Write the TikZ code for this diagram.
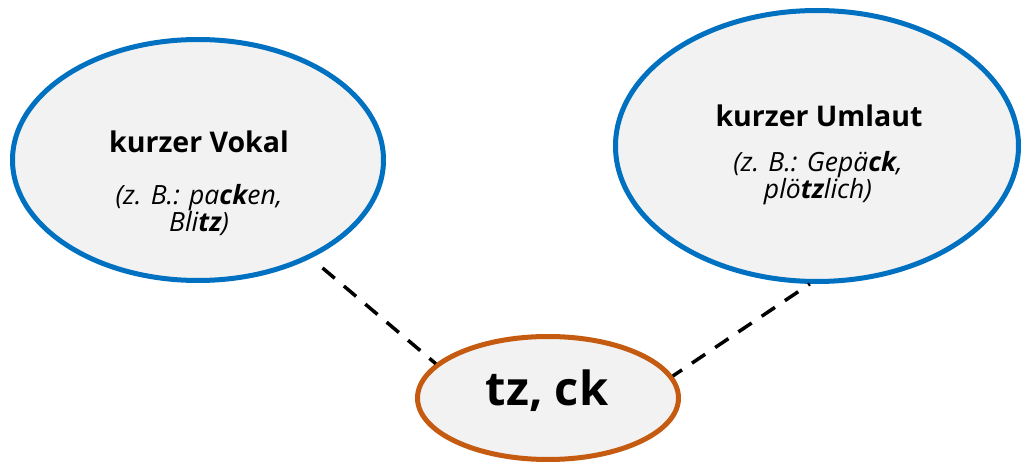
\documentclass[tikz,border=0pt]{standalone}
\usepackage{fontspec}
\setmainfont{Open Sans}
\usetikzlibrary{shapes.geometric}
\definecolor{fillgray}{HTML}{F2F2F2}
\definecolor{bblue}{HTML}{0070C0}
\definecolor{borange}{HTML}{C55A11}
\tikzset{
  oval/.style={ellipse, draw, line width=5pt, fill=fillgray, inner sep=0pt},
  blueoval/.style={oval, draw=bblue},
  orangeoval/.style={oval, draw=borange},
  title/.style={anchor=base, font=\bfseries\fontsize{28.5}{34}\selectfont},
  example/.style={anchor=base, align=center, inner sep=0pt, font=\itshape\fontsize{26.5}{22.5}\selectfont},
  link/.style={draw=black, line width=3.5pt, dash pattern=on 16pt off 12pt}
}
\begin{document}
\begin{tikzpicture}[x=1pt,y=-1pt]
\useasboundingbox (0,0) rectangle (1021,465);
\node[blueoval, minimum width=371pt, minimum height=241pt] (kv) at (198,160) {};
\node[blueoval, minimum width=403pt, minimum height=271pt] (ku) at (817,146) {};
\node[orangeoval, minimum width=261pt, minimum height=123pt] (tc) at (548,398) {};
\node[title] (kvt) at (199,153) {kurzer Vokal};
\node[example] (kve) at (199,232) {(z. B.: pa\textbf{ck}en,\\Bli\textbf{tz})};
\node[title] (kut) at (819,127) {kurzer Umlaut};
\node[example] (kue) at (818,199) {(z. B.: Gepä\textbf{ck},\\plö\textbf{tz}lich)};
\node[anchor=base, font=\bfseries\fontsize{47}{56}\selectfont] (tct) at (547,405) {tz, ck};
\draw[link, shorten <=15pt] (kv.-41.7) -- (tc.163.3);
\draw[link, dash phase=14pt] (ku.-93.8) -- (tc.10);
\end{tikzpicture}
\end{document}
